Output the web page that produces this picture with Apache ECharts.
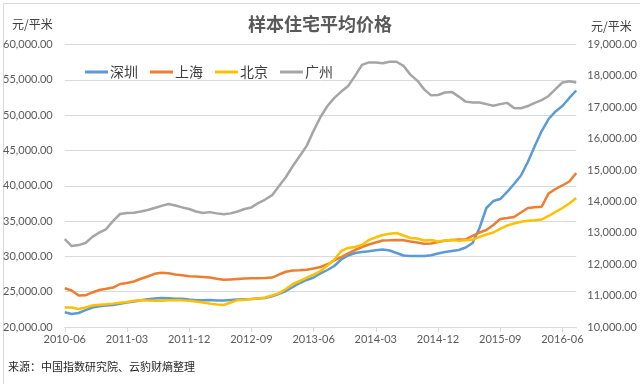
<!DOCTYPE html>
<html>
<head>
<meta charset="utf-8">
<script src="https://cdn.jsdelivr.net/npm/echarts@6/dist/echarts.min.js"></script>
<style>
html,body{margin:0;padding:0;background:#fff;}
#main{width:640px;height:384px;}
</style>
</head>
<body>
<div id="main"></div>
<script>
var categories = [
'2010-06','2010-07','2010-08','2010-09','2010-10','2010-11','2010-12',
'2011-01','2011-02','2011-03','2011-04','2011-05','2011-06','2011-07','2011-08','2011-09','2011-10','2011-11','2011-12',
'2012-01','2012-02','2012-03','2012-04','2012-05','2012-06','2012-07','2012-08','2012-09','2012-10','2012-11','2012-12',
'2013-01','2013-02','2013-03','2013-04','2013-05','2013-06','2013-07','2013-08','2013-09','2013-10','2013-11','2013-12',
'2014-01','2014-02','2014-03','2014-04','2014-05','2014-06','2014-07','2014-08','2014-09','2014-10','2014-11','2014-12',
'2015-01','2015-02','2015-03','2015-04','2015-05','2015-06','2015-07','2015-08','2015-09','2015-10','2015-11','2015-12',
'2016-01','2016-02','2016-03','2016-04','2016-05','2016-06','2016-07','2016-08'
];
var seriesNames = ['深圳','上海','北京','广州'];
var shenzhen = [
22080,21840,21980,22400,22760,22930,23030,23110,23280,23450,23610,23780,23920,24020,24110,24060,24010,24010,23880,
23800,23800,23820,23750,23740,23820,23890,23940,23960,24040,24110,24350,24700,25100,25660,26230,26660,27010,27580,
28070,28640,29560,30120,30480,30620,30720,30860,30970,30830,30480,30120,30050,30050,30050,30150,30410,30620,30760,
30900,31260,31890,34020,36850,37840,38120,39120,40250,41450,43360,45630,47750,49450,50520,51290,52430,53490
];
var shanghai = [
25480,25170,24460,24490,24890,25240,25410,25590,26090,26230,26440,26830,27150,27530,27670,27600,27430,27320,27180,
27150,27080,27010,26840,26680,26740,26800,26850,26900,26910,26940,27000,27430,27820,27990,28040,28100,28280,28500,
28880,29420,29910,30440,30900,31330,31680,31970,32250,32280,32320,32280,32120,31970,31780,31830,32040,32210,32320,
32390,32420,32890,33380,33740,34440,35290,35430,35580,36210,36850,36950,37020,38910,39540,40040,40600,41810
];
var beijing = [
22760,22760,22550,22760,23040,23140,23210,23310,23430,23540,23710,23780,23750,23710,23710,23780,23780,23770,23710,
23610,23470,23310,23170,23120,23470,23800,23850,23960,24050,24180,24460,24790,25380,26090,26510,26980,27430,27930,
28710,29560,30760,31190,31330,31610,32320,32700,33030,33200,33310,32960,32600,32530,32250,32320,32110,32250,32320,
32210,32280,32350,32770,33100,33380,33880,34370,34660,34900,35040,35120,35220,35720,36280,36850,37490,38270
];
var guangzhou = [
12800,12580,12610,12675,12870,13010,13120,13380,13600,13630,13640,13680,13730,13790,13860,13920,13870,13810,13760,
13680,13630,13660,13620,13590,13620,13680,13760,13810,13950,14060,14200,14490,14780,15130,15450,15770,16250,16690,
17040,17300,17500,17680,18000,18350,18430,18430,18400,18450,18450,18320,18040,17850,17570,17380,17390,17470,17490,
17340,17180,17150,17150,17100,17050,17100,17140,16980,16970,17040,17140,17230,17360,17580,17790,17830,17790
];
var leftTicks = {min:20000, max:60000, interval:5000};
var rightTicks = {min:10000, max:19000, interval:1000};
var titleText = '样本住宅平均价格';
var unitText = '元/平米';
var sourceText = '来源：中国指数研究院、云豹财熵整理';

function fmt(v){
  var s = Math.round(v).toString().replace(/\B(?=(\d{3})+(?!\d))/g, ',');
  return s + '.00';
}
var colors = ['#5B9BD5','#ED7D31','#FFC000','#A5A5A5'];
var cjk = '"Noto Sans CJK SC", "Noto Sans", sans-serif';
var numFont = '"Lato", "Noto Sans", sans-serif';

var chart = echarts.init(document.getElementById('main'), null, {renderer:'canvas'});
var dataSets = [shenzhen, shanghai, beijing, guangzhou];
var series = dataSets.map(function(d, i){
  return {
    name: seriesNames[i], type:'line', data:d,
    yAxisIndex: i === 3 ? 1 : 0,
    showSymbol:false, symbol:'none', smooth:false,
    lineStyle:{width:2.5, color:colors[i]},
    itemStyle:{color:colors[i]},
    animation:false
  };
});
chart.setOption({
  animation:false,
  color: colors,
  title:{text:titleText, left:'center', top:10,
    textStyle:{fontFamily:cjk, fontSize:18, fontWeight:'bold', color:'#595959'}},
  legend:{left:80, top:60, icon:'rect', itemWidth:23, itemHeight:3, itemGap:12,
    data:seriesNames,
    textStyle:{fontFamily:cjk, fontSize:14, color:'#404040', padding:[0,0,0,-3]}},
  grid:{left:61, right:61, top:44.5, bottom:57, containLabel:false},
  xAxis:{type:'category', data:categories, boundaryGap:false,
    axisLine:{lineStyle:{color:'#d9d9d9', width:1}},
    axisTick:{show:true, interval:8, length:5, lineStyle:{color:'#d9d9d9'}},
    axisLabel:{interval:8, color:'#595959', fontFamily:numFont, fontSize:11, margin:7},
    splitLine:{show:false}},
  yAxis:[
    {type:'value', min:leftTicks.min, max:leftTicks.max, interval:leftTicks.interval,
     axisLine:{show:false}, axisTick:{show:false},
     axisLabel:{color:'#595959', fontFamily:numFont, fontSize:11, margin:12, formatter:fmt},
     splitLine:{lineStyle:{color:'#d9d9d9', width:1}}},
    {type:'value', min:rightTicks.min, max:rightTicks.max, interval:rightTicks.interval,
     axisLine:{show:false}, axisTick:{show:false},
     axisLabel:{color:'#595959', fontFamily:numFont, fontSize:11, margin:11, formatter:fmt},
     splitLine:{show:false}}
  ],
  graphic:[
    {type:'rect', left:1, top:1, shape:{width:637, height:381}, style:{fill:'none', stroke:'#d9d9d9', lineWidth:1}, silent:true},
    {type:'text', left:12, top:18, style:{text:unitText, fontFamily:cjk, fontSize:12, fill:'#404040'}},
    {type:'text', left:591, top:20, style:{text:unitText, fontFamily:cjk, fontSize:12, fill:'#404040'}},
    {type:'text', left:8, top:361, style:{text:sourceText, fontFamily:cjk, fontSize:11, fill:'#262626'}}
  ],
  series: series
});
</script>
</body>
</html>
